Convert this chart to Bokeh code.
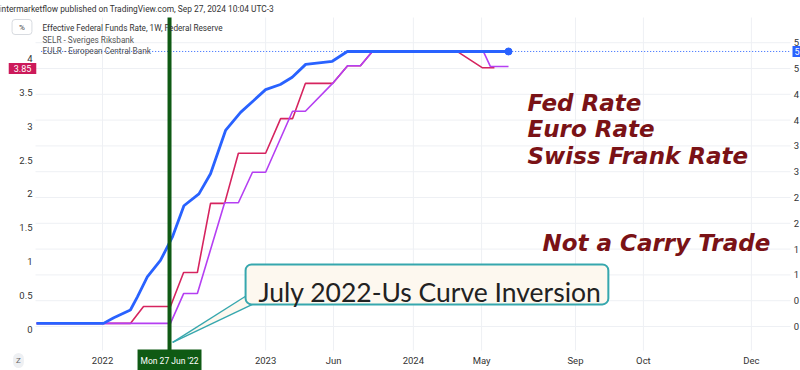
from bokeh.plotting import figure
from bokeh.models import Range1d, Label, BoxAnnotation
from bokeh.core.properties import value
from bokeh.embed import file_html
from bokeh.resources import INLINE

# x = weekly bar index counted from the first bar (Aug 2021)
fed_week = [0, 21.4, 24.7, 30.0, 32.2, 35.4, 39.6, 43.4, 47.1, 51.9, 55.6, 60.4,
            65.2, 69.4, 73.2, 77.9, 81.7, 86.0, 94.5, 99.3, 150.8]
fed_rate = [0.06, 0.06, 0.17, 0.32, 0.57, 0.96, 1.28, 1.73, 2.34, 2.57, 2.96, 3.80,
            4.15, 4.38, 4.59, 4.69, 4.83, 5.08, 5.14, 5.33, 5.33]

selr_week = [0, 30.0, 34.2, 42.8, 47.0, 51.4, 55.6, 60.1, 64.5, 73.2, 78.0, 81.8,
             85.9, 94.6, 99.4, 103.5, 107.3, 134.5, 142.5, 146.3]
selr_rate = [0.09, 0.09, 0.34, 0.34, 0.84, 0.84, 1.86, 1.86, 2.60, 2.60, 3.11, 3.11,
             3.63, 3.63, 3.89, 3.89, 4.10, 4.10, 3.86, 3.86]

eulr_week = [0, 42.8, 47.0, 51.4, 60.1, 64.5, 69.0, 73.2, 81.8, 85.9, 94.6, 99.4,
             103.5, 107.3, 142.8, 145.0, 150.8]
eulr_rate = [0.09, 0.09, 0.53, 0.53, 1.87, 1.87, 2.32, 2.32, 3.22, 3.22, 3.63, 3.89,
             3.89, 4.10, 4.10, 3.88, 3.88]

x_tick_pos = [21.1, 73.2, 94.9, 120.4, 142.2, 172.2, 193.9, 228.4]
x_tick_lab = ["2022", "2023", "Jun", "2024", "May", "Sep", "Oct", "Dec"]

left_ticks = [0, 0.5, 1, 1.5, 2, 2.5, 3, 3.5, 4]
left_labels = ["0", "0.5", "1", "1.5", "2", "2.5", "3", "3.5", "4"]
right_ticks = [0, 0.5, 1, 1.5, 2, 2.5, 3, 3.5, 4, 4.5, 5, 5.5]
# the right scale is cut by the picture edge: only the first character shows
right_labels = ["0", "0", "1", "1", "2", "2", "3", "3", "4", "4", "5", "5"]

marker_week = 42.5          # Mon 27 Jun '22
last_fed = 5.33
last_selr = 3.85

BLUE = "#2962ff"
RED = "#d6245f"
PURPLE = "#b53ff2"
TEAL = "#36a7ae"
GREEN = "#0f5a14"
DARKRED = "#7a1216"
FONT = "Roboto"

# pane limits (plot area inside the canvas), in data units
W0, W1 = -0.32, 240.9
L0, L1 = -0.31, 4.602
R0, R1 = -0.465, 5.988

p = figure(width=800, height=370, output_backend="svg", toolbar_location=None,
           x_range=Range1d(-11.50, 244.09), y_range=Range1d(-0.605, 4.853),
           min_border=0, background_fill_color="white",
           border_fill_color="white", outline_line_color=None)
p.extra_y_ranges = {"right": Range1d(-0.853, 6.318)}
p.axis.visible = False
p.grid.visible = False

def H(py):      # screen y measured from the canvas bottom
    return 370 - py

# grid
p.segment(x0=x_tick_pos, x1=x_tick_pos, y0=[L0] * len(x_tick_pos), y1=[L1] * len(x_tick_pos),
          line_color="#eef0f4", line_width=1)
p.segment(x0=[W0] * len(right_ticks), x1=[W1] * len(right_ticks), y0=right_ticks, y1=right_ticks,
          line_color="#eef0f4", line_width=1, y_range_name="right")

# tick labels
p.text(x=x_tick_pos, y=[-0.457] * len(x_tick_pos), text=x_tick_lab, text_font=value(FONT),
       text_font_size="9.5px", text_color="#333333", text_align="center",
       text_baseline="middle")
p.text(x=[-1.28] * len(left_ticks), y=left_ticks, text=left_labels, text_font=value(FONT),
       text_font_size="9.5px", text_color="#333333", text_align="right",
       text_baseline="middle")
p.text(x=[241.9] * len(right_ticks), y=right_ticks, text=right_labels, text_font=value(FONT),
       text_font_size="9.5px", text_color="#333333", text_align="left",
       text_baseline="middle", y_range_name="right")

# price line of the Fed series
p.segment(x0=[1.5], x1=[W1], y0=[last_fed], y1=[last_fed], y_range_name="right",
          line_color=BLUE, line_width=1, line_dash="1 2")

p.line(selr_week, selr_rate, line_color=RED, line_width=1.6)
p.line(eulr_week, eulr_rate, line_color=PURPLE, line_width=1.6)
p.line(fed_week, fed_rate, line_color=BLUE, line_width=2.8, y_range_name="right")
p.scatter([fed_week[-1]], [fed_rate[-1]], size=7, color=BLUE, y_range_name="right")

# vertical marker
p.segment(x0=[marker_week], x1=[marker_week], y0=[L0], y1=[L1], line_color=GREEN, line_width=4)

# callout
p.patch([66.8, 43.5, 69.0], [0.49, -0.19, 0.37], fill_color="#fdf8ef", line_color=None)
p.multi_line([[66.8, 43.5], [69.0, 43.5]], [[0.49, -0.19], [0.37, -0.19]],
             line_color=TEAL, line_width=1.4)
p.add_layout(BoxAnnotation(left=66.8, right=182.7, top=0.96, bottom=0.37,
                           fill_color="#fdf8ef", fill_alpha=1, line_color=TEAL,
                           line_alpha=1, line_width=2, border_radius=6))
p.add_layout(Label(x=258, y=H(291), x_units="screen", y_units="screen",
                   text="July 2022-Us Curve Inversion",
                   text_font="Lato", text_font_size="26.5px", text_color="#222222",
                   text_baseline="alphabetic"))

# big commentary texts
for txt, xx, yy in [("Fed Rate", 527, 102), ("Euro Rate", 527, 128),
                    ("Swiss Frank Rate", 527, 155), ("Not a Carry Trade", 542, 242)]:
    p.add_layout(Label(x=xx, y=H(yy), x_units="screen", y_units="screen", text=txt,
                       text_font="DejaVu Sans", text_font_size="23px",
                       text_font_style="bold italic",
                       text_color=DARKRED, text_baseline="alphabetic"))

# header and legend
p.add_layout(Label(x=-1, y=H(8), x_units="screen", y_units="screen",
                   text="intermarketflow published on TradingView.com, Sep 27, 2024 10:04 UTC-3",
                   text_font=FONT, text_font_size="8.4px", text_color="#333333",
                   text_baseline="middle"))
for txt, yy, col in [("Effective Federal Funds Rate, 1W, Federal Reserve", 27, "#333333"),
                     ("SELR - Sveriges Riksbank", 39, "#555555"),
                     ("EULR - European Central Bank", 50, "#555555")]:
    p.add_layout(Label(x=42, y=H(yy), x_units="screen", y_units="screen", text=txt,
                       text_font=FONT, text_font_size="8.2px", text_color=col,
                       text_baseline="middle"))
p.add_layout(Label(x=21.5, y=H(26.5), x_units="screen", y_units="screen", text="%",
                   text_font=FONT, text_font_size="8px", text_color="#444444",
                   text_align="center", text_baseline="middle",
                   border_line_color="#d8dbe0", border_line_width=1,
                   background_fill_color="white",
                   padding=dict(left=7, right=7, top=3, bottom=3), border_radius=3))

# value labels
p.add_layout(Label(x=22, y=last_selr, x_units="screen",
                   text=f"{last_selr:.2f}", text_font=FONT, text_font_size="9px",
                   text_color="white", text_align="center", text_baseline="middle",
                   background_fill_color="#cc1a5a",
                   padding=dict(left=5, right=5, top=2, bottom=2)))
p.add_layout(Label(x=792, y=last_fed, x_units="screen", y_range_name="right",
                   text=f"{last_fed:.2f}"[0], text_font=FONT, text_font_size="9px",
                   text_color="white", text_align="left", text_baseline="middle",
                   background_fill_color=BLUE, padding=2))

# date label on the time axis
p.add_layout(Label(x=marker_week, y=H(360), y_units="screen", text="Mon 27 Jun '22",
                   text_font=FONT, text_font_size="8.5px", text_color="white",
                   text_align="center", text_baseline="middle",
                   background_fill_color=GREEN,
                   padding=dict(left=3, right=3, top=6, bottom=6)))
p.add_layout(Label(x=18, y=H(360), x_units="screen", y_units="screen", text="Z",
                   text_font=FONT, text_font_size="8px", text_color="#666666",
                   text_align="center", text_baseline="middle",
                   background_fill_color="#eef0f3", padding=3, border_radius=8))

open("out.html", "w").write(file_html(p, INLINE))
